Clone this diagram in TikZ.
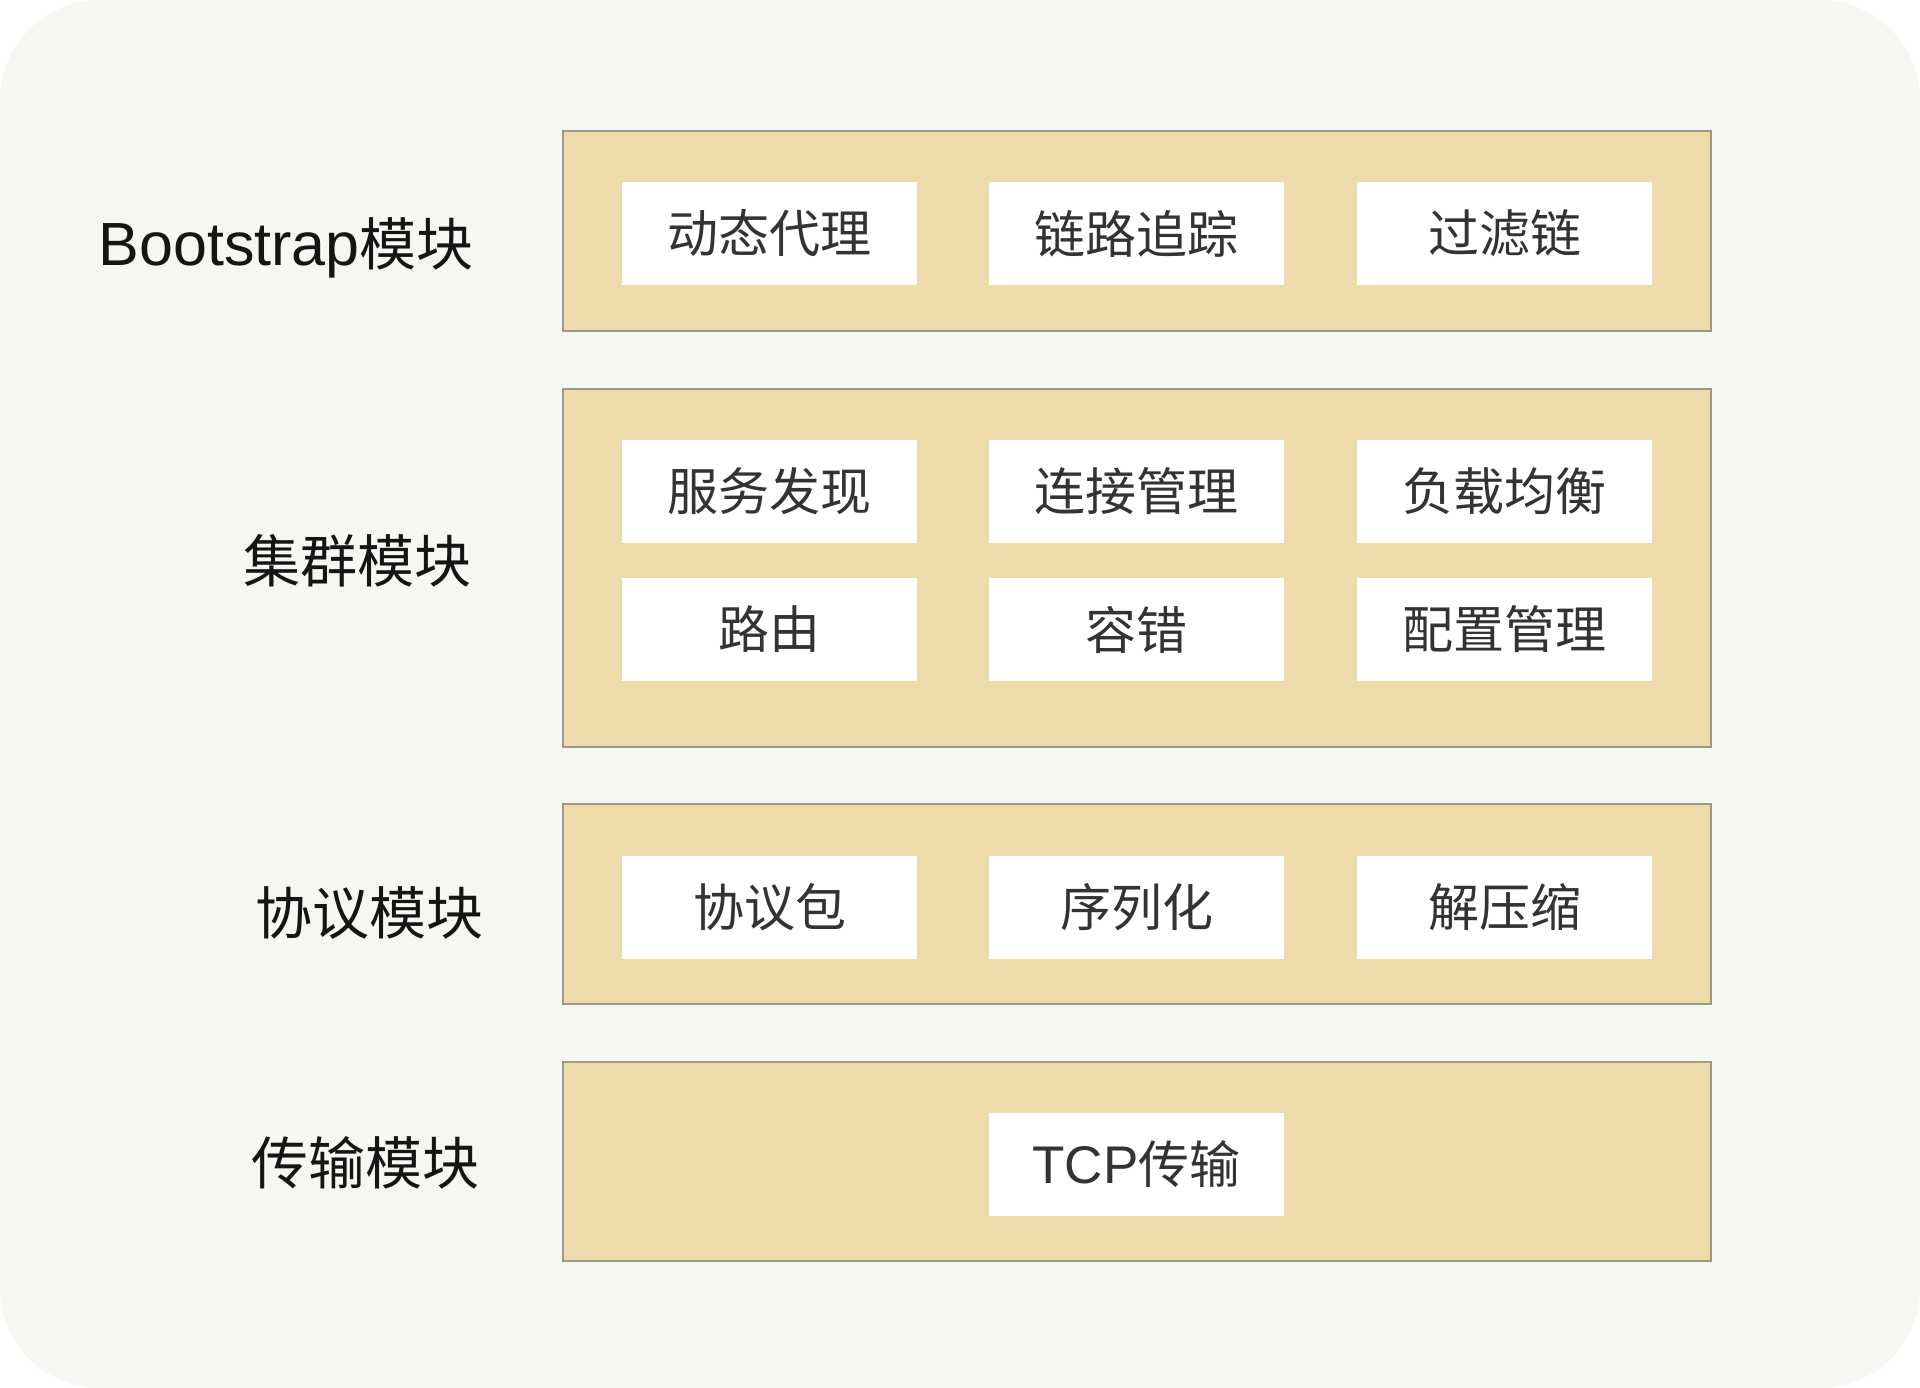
\documentclass[tikz,border=0pt]{standalone}
\usepackage{fontspec}
\setmainfont{Noto Sans CJK SC}
\newfontfamily\latinf{Liberation Sans}
\definecolor{bgc}{HTML}{F6F6F2}
\definecolor{layerfill}{HTML}{EEDBAC}
\definecolor{layerline}{HTML}{9E9884}
\definecolor{itemtext}{HTML}{333333}
\definecolor{labeltext}{HTML}{151515}
\begin{document}
\begin{tikzpicture}[x=1pt,y=-1pt,
  layerbox/.style={draw=layerline, fill=layerfill, line width=2.5pt, minimum width=1148pt, inner sep=0pt},
  itembox/.style={fill=white, minimum width=295pt, minimum height=103pt, inner sep=0pt, text=itemtext, font=\fontsize{51}{51}\selectfont},
  modlabel/.style={anchor=east, inner sep=0pt, text=labeltext, font=\fontsize{57}{57}\selectfont}
]
\useasboundingbox (0,0) rectangle (1920,1388);
\fill[white] (0,0) rectangle (1920,1388);
\fill[bgc, rounded corners=100pt] (0,0) rectangle (1920,1388);

% layers
\node[layerbox, minimum height=200pt] (L1) at (1137,231) {};
\node[layerbox, minimum height=358pt] (L2) at (1137,568) {};
\node[layerbox, minimum height=200pt] (L3) at (1137,904) {};
\node[layerbox, minimum height=199pt] (L4) at (1137,1161.5) {};

% labels
\node[modlabel] (M1) at (474,248) {{\latinf\fontsize{61}{61}\selectfont Bootstrap}模块};
\node[modlabel] (M2) at (472,561) {集群模块};
\node[modlabel] (M3) at (484,913) {协议模块};
\node[modlabel] (M4) at (480,1163) {传输模块};

% Bootstrap items
\node[itembox] (B1) at (769.5,233.5) {动态代理};
\node[itembox] (B2) at (1136.5,233.5) {链路追踪};
\node[itembox] (B3) at (1504.5,233.5) {过滤链};

% cluster items
\node[itembox] (C1) at (769.5,491) {服务发现};
\node[itembox] (C2) at (1136.5,491) {连接管理};
\node[itembox] (C3) at (1504.5,491) {负载均衡};
\node[itembox] (C4) at (769.5,629.5) {路由};
\node[itembox] (C5) at (1136.5,629.5) {容错};
\node[itembox] (C6) at (1504.5,629.5) {配置管理};

% protocol items
\node[itembox] (P1) at (769.5,907.5) {协议包};
\node[itembox] (P2) at (1136.5,907.5) {序列化};
\node[itembox] (P3) at (1504.5,907.5) {解压缩};

% transport item
\node[itembox] (T1) at (1136.5,1164.5) {{\latinf\fontsize{53}{53}\selectfont TCP}传输};
\end{tikzpicture}
\end{document}
